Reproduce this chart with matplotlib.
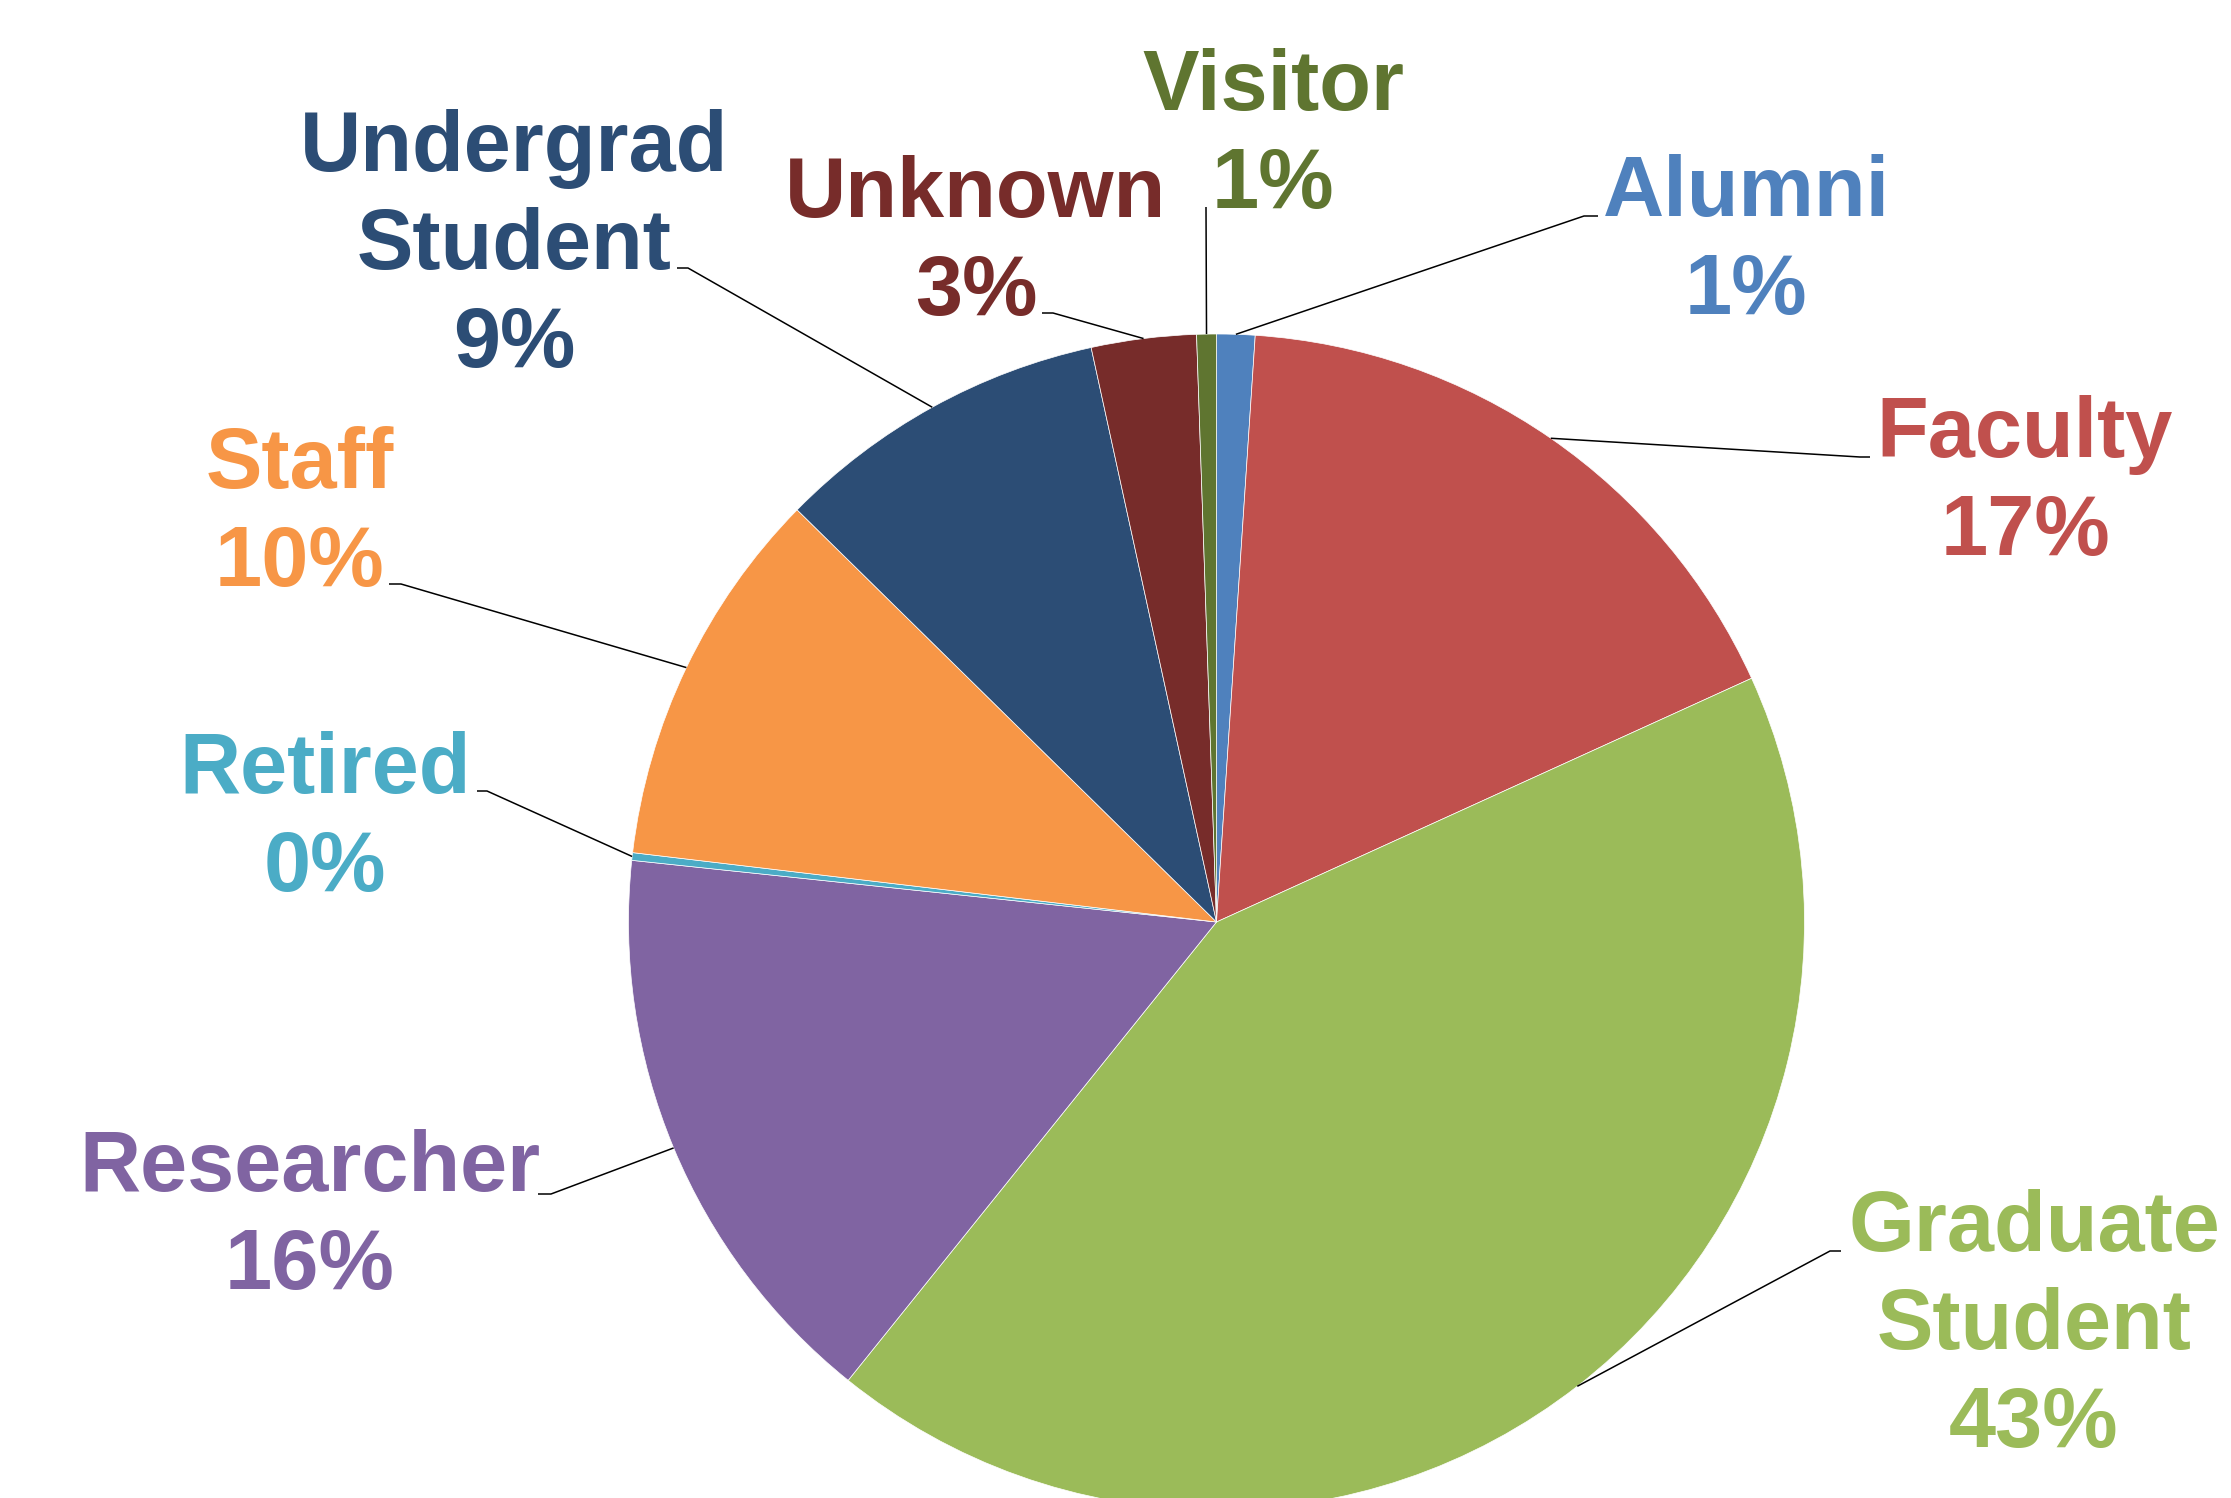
import matplotlib.pyplot as plt
import numpy as np

plt.rcParams['font.family'] = ['Liberation Sans', 'DejaVu Sans']

# =========================
# Data
# =========================

categories = ["Alumni", "Faculty", "Graduate\nStudent", "Researcher", "Retired",
              "Staff", "Undergrad\nStudent", "Unknown", "Visitor"]
shares = [1.05, 17.15, 42.58, 15.90, 0.21, 10.48, 9.22, 2.88, 0.54]
colors = ["#4F81BD", "#C0504D", "#9BBB59", "#8064A2", "#4BACC6",
          "#F79646", "#2C4D75", "#772C2A", "#5F7530"]

# =========================
# Layout (pixels, y measured from the top)
# =========================

W, H = 2231, 1498
CX, CY, R = 1216.5, 922, 588
LINE_STEP = 98

# text anchor (center x, baseline of the % line), leader elbow, leader end
text_pos = [(1746, 314), (2025, 555), (2034, 1447), (310, 1289), (325, 891),
            (300, 586), (514, 367), (976, 315), (1273, 208)]
elbow_pos = [(1584, 216), (1860, 457), (1830, 1251), (551, 1194), (487, 791),
             (401, 584), (688, 268), (1053, 313), (1206, 207)]
end_pos = [(1598, 216), (1870, 457), (1841, 1251), (538, 1194), (477, 791),
           (389, 584), (677, 268), (1042, 313), (1206, 207)]


def up(y):
    return H - y


fig = plt.figure(figsize=(W / 100, H / 100), dpi=100)
ax = fig.add_axes([0, 0, 1, 1])

wedges, _ = ax.pie(shares, colors=colors, startangle=90, counterclock=False,
                   center=(CX, up(CY)), radius=R,
                   wedgeprops=dict(edgecolor="white", linewidth=0.5))

total = sum(shares)
for i, w in enumerate(wedges):
    # leader line from the middle of the slice edge
    mid = np.deg2rad((w.theta1 + w.theta2) / 2)
    sx = CX + R * np.cos(mid)
    sy = up(CY) + R * np.sin(mid)
    ex, ey = elbow_pos[i]
    fx, fy = end_pos[i]
    ax.plot([sx, ex, fx], [sy, up(ey), up(fy)], color="black", lw=1.1,
            solid_capstyle="butt", zorder=3)

    # label: category lines + percentage, one baseline per line
    pct = round(shares[i] / total * 100)
    lines = categories[i].split("\n") + [f"{pct:.0f}%"]
    tx, ty = text_pos[i]
    for k, line in enumerate(lines):
        y = ty - (len(lines) - 1 - k) * LINE_STEP
        ax.text(tx, up(y), line, color=colors[i], fontsize=61,
                fontweight="bold", ha="center", va="baseline")

ax.set_xlim(0, W)
ax.set_ylim(0, H)
ax.set_aspect("auto")
ax.axis("off")

plt.savefig("out.png", dpi=100)
plt.close()
